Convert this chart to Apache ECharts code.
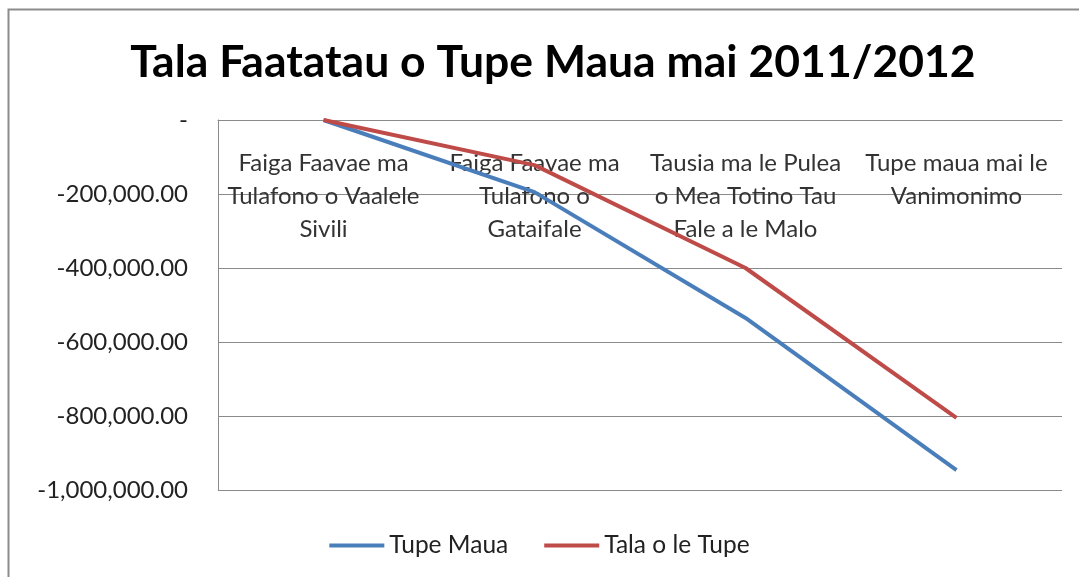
<!DOCTYPE html>
<html>
<head>
<meta charset="utf-8">
<script src="https://cdn.jsdelivr.net/npm/echarts@6/dist/echarts.min.js"></script>
<style>
html,body{margin:0;padding:0;background:#fff;}
#chart{width:1079px;height:577px;}
</style>
</head>
<body>
<div id="chart"></div>
<script>
var titleText = 'Tala Faatatau o Tupe Maua mai 2011/2012';
var categories = [
  'Faiga Faavae ma\nTulafono o Vaalele\nSivili',
  'Faiga Faavae ma\nTulafono o\nGataifale',
  'Tausia ma le Pulea\no Mea Totino Tau\nFale a le Malo',
  'Tupe maua mai le\nVanimonimo'
];
var seriesNames = ['Tupe Maua', 'Tala o le Tupe'];
var tupeMaua = [0, -195000, -535000, -946000];
var talaOleTupe = [0, -122000, -400000, -805000];
var yMin = -1000000, yMax = 0, yStep = 200000;

var chart = echarts.init(document.getElementById('chart'), null, {renderer: 'canvas'});
var font = 'Lato, "Open Sans", sans-serif';
chart.setOption({
  backgroundColor: '#ffffff',
  animation: false,
  textStyle: {fontFamily: font},
  graphic: [{
    type: 'rect', left: 6, top: 7, silent: true, z: -1,
    shape: {width: 1100, height: 600},
    style: {fill: 'none', stroke: '#8c8c8c', lineWidth: 2}
  }],
  title: {
    text: titleText,
    left: 548, top: 35, textAlign: 'center',
    textStyle: {fontFamily: font, fontSize: 44.5, fontWeight: 'bold', color: '#000'}
  },
  legend: {
    bottom: 14, left: 'center',
    itemWidth: 55, itemHeight: 4, itemGap: 36,
    icon: 'rect',
    textStyle: {fontFamily: font, fontSize: 24.5, color: '#222'},
    data: seriesNames
  },
  grid: {left: 218, right: 17, top: 120, bottom: 87, containLabel: false},
  xAxis: {
    type: 'category', position: 'top', data: categories, boundaryGap: true,
    axisLine: {show: true, lineStyle: {color: '#8a8a8a', width: 1}},
    axisTick: {show: false},
    axisLabel: {inside: true, margin: 27, interval: 0, fontFamily: font, fontSize: 24, lineHeight: 33, color: '#333', verticalAlign: 'top'},
    splitLine: {show: false}
  },
  yAxis: {
    type: 'value', min: yMin, max: yMax, interval: yStep,
    axisLine: {show: true, lineStyle: {color: '#8a8a8a', width: 1}},
    axisTick: {show: false},
    splitLine: {show: true, lineStyle: {color: '#8a8a8a', width: 1}},
    axisLabel: {
      margin: 30, fontFamily: font, fontSize: 24, color: '#222',
      formatter: function (v) {
        if (v === 0) return '-';
        return v.toLocaleString('en-US', {minimumFractionDigits: 2, maximumFractionDigits: 2});
      }
    }
  },
  series: [
    {name: seriesNames[0], type: 'line', data: tupeMaua, symbol: 'none',
     lineStyle: {color: '#4a7ebb', width: 4}, itemStyle: {color: '#4a7ebb'}},
    {name: seriesNames[1], type: 'line', data: talaOleTupe, symbol: 'none',
     lineStyle: {color: '#be4b48', width: 4}, itemStyle: {color: '#be4b48'}}
  ]
});
</script>
</body>
</html>
